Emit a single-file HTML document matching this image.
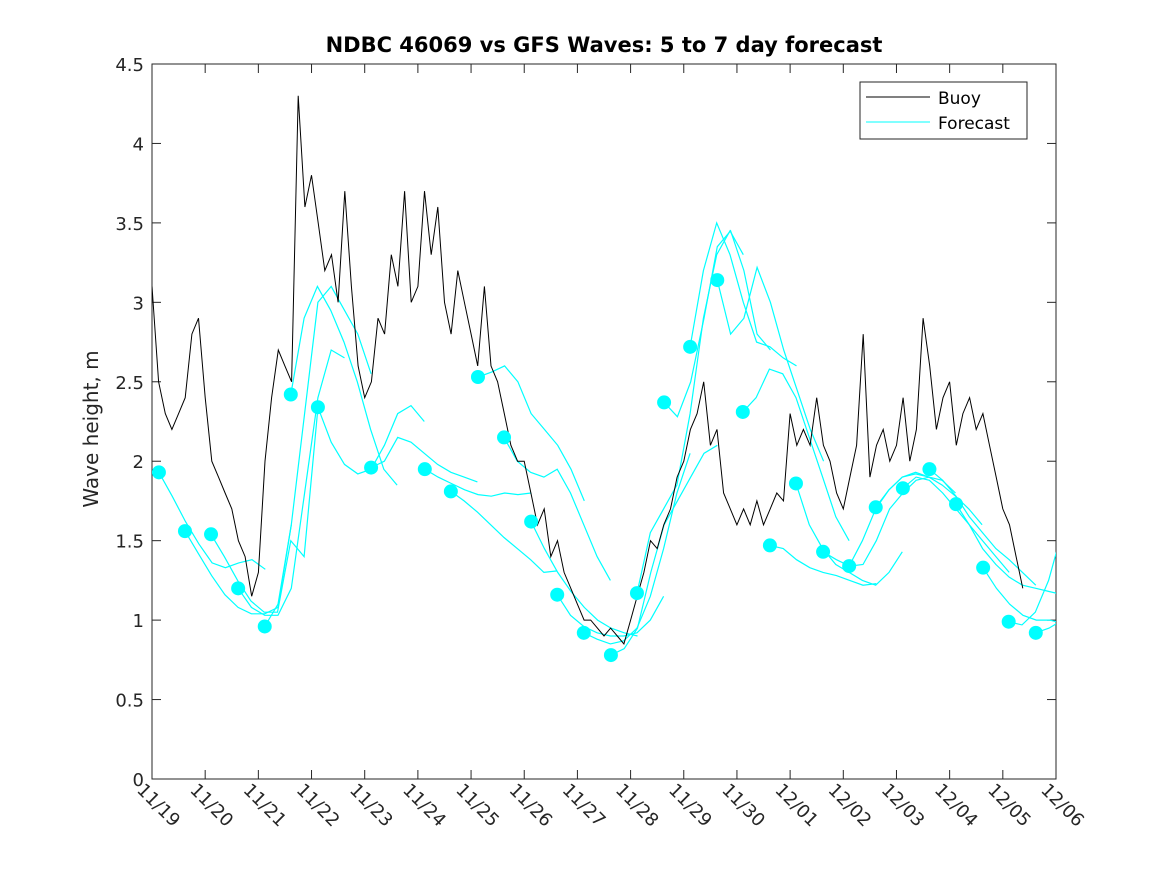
<!DOCTYPE html>
<html><head><meta charset="utf-8"><style>
body{margin:0;background:#fff;}
svg{font-family:"DejaVu Sans","Liberation Sans",sans-serif;}
</style></head><body>
<svg id="c" width="1167" height="875" viewBox="0 0 1167 875">
<defs><clipPath id="pc"><rect x="152" y="64" width="904" height="715"/></clipPath></defs>
<rect x="0" y="0" width="1167" height="875" fill="#fff"/>
<rect x="152" y="64" width="904" height="715" fill="#fff" stroke="#262626" stroke-width="1"/>
<text x="604" y="52" text-anchor="middle" font-size="21" font-weight="bold" fill="#000">NDBC 46069 vs GFS Waves: 5 to 7 day forecast</text>
<text transform="translate(98,429) rotate(-90)" text-anchor="middle" font-size="20" fill="#262626">Wave height, m</text>
<g id="axes"></g>
<g id="fc" clip-path="url(#pc)"></g>
<g id="buoy" clip-path="url(#pc)"></g>
<g id="dots" clip-path="url(#pc)"></g>
<g>
<rect x="860" y="82" width="167" height="57" fill="#fff" stroke="#262626" stroke-width="1"/>
<line x1="866" y1="97" x2="930" y2="97" stroke="#000" stroke-width="1"/>
<text x="938" y="104" font-size="17" fill="#000">Buoy</text>
<line x1="866" y1="122" x2="930" y2="122" stroke="#00ffff" stroke-width="1"/>
<text x="938" y="129" font-size="17" fill="#000">Forecast</text>
</g>
</svg>
<script>
const xTickLabels=["11/19","11/20","11/21","11/22","11/23","11/24","11/25","11/26","11/27","11/28","11/29","11/30","12/01","12/02","12/03","12/04","12/05","12/06"];
const yTicks=[0,0.5,1,1.5,2,2.5,3,3.5,4,4.5];
const buoyStep=0.125;
const buoyValues=[3.1,2.5,2.3,2.2,2.3,2.4,2.8,2.9,
2.4,2.0,1.9,1.8,1.7,1.5,1.4,1.15,
1.3,2.0,2.4,2.7,2.6,2.5,4.3,3.6,
3.8,3.5,3.2,3.3,3.0,3.7,3.1,2.6,
2.4,2.5,2.9,2.8,3.3,3.1,3.7,3.0,
3.1,3.7,3.3,3.6,3.0,2.8,3.2,3.0,
2.8,2.6,3.1,2.6,2.5,2.3,2.1,2.0,
2.0,1.8,1.6,1.7,1.4,1.5,1.3,1.2,
1.1,1.0,1.0,0.95,0.9,0.95,0.9,0.85,
1.0,1.15,1.3,1.5,1.45,1.6,1.7,1.9,
2.0,2.2,2.3,2.5,2.1,2.2,1.8,1.7,
1.6,1.7,1.6,1.75,1.6,1.7,1.8,1.75,
2.3,2.1,2.2,2.1,2.4,2.1,2.0,1.8,
1.7,1.9,2.1,2.8,1.9,2.1,2.2,2.0,
2.1,2.4,2.0,2.2,2.9,2.6,2.2,2.4,
2.5,2.1,2.3,2.4,2.2,2.3,2.1,1.9,
1.7,1.6,1.4,1.2];
const fcStep=0.25;
const fcStarts=[0.13,0.62,1.11,1.62,2.12,2.61,3.12,4.12,5.13,5.62,6.13,6.62,7.13,7.62,8.12,8.63,9.12,9.63,10.12,10.63,11.11,11.62,12.11,12.62,13.11,13.61,14.12,14.62,15.12,15.63,16.11,16.62];
const fcRuns=[
[1.93,1.78,1.62,1.48,1.36,1.33,1.36,1.38,1.32],
[1.56,1.42,1.28,1.16,1.08,1.04,1.04,1.08,1.6],
[1.54,1.4,1.25,1.12,1.05,1.05,1.5,1.4,2.3],
[1.20,1.08,1.03,1.03,1.2,1.8,2.4,2.7,2.65],
[0.96,1.1,1.6,2.3,3.0,3.1,2.95,2.8,2.55],
[2.42,2.9,3.1,2.95,2.75,2.5,2.2,1.95,1.85],
[2.34,2.12,1.98,1.92,1.95,2.1,2.3,2.35,2.25],
[1.96,2.0,2.15,2.12,2.05,1.98,1.93,1.9,1.87],
[1.95,1.9,1.86,1.82,1.79,1.78,1.8,1.79,1.8],
[1.81,1.75,1.68,1.6,1.52,1.45,1.38,1.3,1.31],
[2.53,2.56,2.6,2.5,2.3,2.2,2.1,1.95,1.75],
[2.15,2.0,1.93,1.9,1.95,1.8,1.6,1.4,1.25],
[1.62,1.45,1.3,1.18,1.08,1.0,0.95,0.92,0.9],
[1.16,1.03,0.96,0.92,0.9,0.9,0.92,1.0,1.15],
[0.92,0.88,0.85,0.87,0.95,1.15,1.45,1.8,2.05],
[0.78,0.82,0.95,1.3,1.6,1.75,1.9,2.05,2.1],
[1.17,1.55,1.7,1.85,2.3,2.9,3.3,3.45,3.3],
[2.37,2.28,2.5,2.9,3.35,3.45,3.2,2.8,2.7],
[2.72,3.2,3.5,3.3,3.0,2.75,2.72,2.65,2.6],
[3.14,2.8,2.9,3.22,3.0,2.7,2.45,2.2,2.0],
[2.31,2.4,2.58,2.55,2.4,2.15,1.9,1.65,1.5],
[1.47,1.45,1.38,1.33,1.3,1.28,1.25,1.22,1.23],
[1.86,1.6,1.45,1.35,1.3,1.25,1.22,1.3,1.43],
[1.43,1.38,1.34,1.35,1.5,1.7,1.8,1.88,1.9],
[1.34,1.5,1.7,1.82,1.9,1.93,1.9,1.88,1.8],
[1.71,1.82,1.9,1.92,1.9,1.85,1.78,1.7,1.6],
[1.83,1.9,1.88,1.8,1.7,1.6,1.5,1.4,1.3],
[1.95,1.88,1.78,1.65,1.55,1.45,1.38,1.3,1.22],
[1.73,1.6,1.45,1.35,1.27,1.22,1.2,1.18,1.16],
[1.33,1.2,1.1,1.03,1.0,1.0,0.98,1.0,1.05],
[0.99,0.97,1.05,1.25,1.55,1.8],
[0.92,0.95,1.0,1.05]
];
const NS="http://www.w3.org/2000/svg";
const X0=152,X1=1056,Y0=779,Y1=64,DAYS=17,YMAX=4.5;
function xs(d){return X0+(X1-X0)*d/DAYS;}
function ys(v){return Y0-(Y0-Y1)*v/YMAX;}
function mk(tag,attrs,parent){const e=document.createElementNS(NS,tag);for(const k in attrs)e.setAttribute(k,attrs[k]);parent.appendChild(e);return e;}
const ax=document.getElementById('axes');
yTicks.forEach(v=>{
  const y=ys(v);
  mk('line',{x1:X0,y1:y,x2:X0+9,y2:y,stroke:'#262626'},ax);
  mk('line',{x1:X1,y1:y,x2:X1-9,y2:y,stroke:'#262626'},ax);
  const t=mk('text',{x:X0-8,y:y+7,'text-anchor':'end','font-size':'18',fill:'#262626'},ax);
  t.textContent=String(v);
  
  
});
xTickLabels.forEach((lab,i)=>{
  const x=xs(i);
  mk('line',{x1:x,y1:Y0,x2:x,y2:Y0-9,stroke:'#262626'},ax);
  mk('line',{x1:x,y1:Y1,x2:x,y2:Y1+9,stroke:'#262626'},ax);
  const t=mk('text',{transform:'translate('+(x-16)+','+(Y0+12)+') rotate(45)','font-size':'18',fill:'#262626'},ax);
  t.textContent=lab;
  
  
});
const fc=document.getElementById('fc');
fcRuns.forEach((run,i)=>{
  const pts=run.map((v,j)=>xs(fcStarts[i]+j*fcStep).toFixed(1)+','+ys(v).toFixed(1)).join(' ');
  const p=mk('polyline',{points:pts,fill:'none',stroke:'#00ffff','stroke-width':'1.2'},fc);
  
  
});
const bg=document.getElementById('buoy');
const bp=buoyValues.map((v,j)=>xs(j*buoyStep).toFixed(1)+','+ys(v).toFixed(1)).join(' ');
const bl=mk('polyline',{points:bp,fill:'none',stroke:'#000','stroke-width':'1'},bg);


const dg=document.getElementById('dots');
fcRuns.forEach((run,i)=>{
  const c=mk('circle',{cx:xs(fcStarts[i]),cy:ys(run[0]),r:7,fill:'#00ffff'},dg);
  
  
});
</script>
</body></html>
